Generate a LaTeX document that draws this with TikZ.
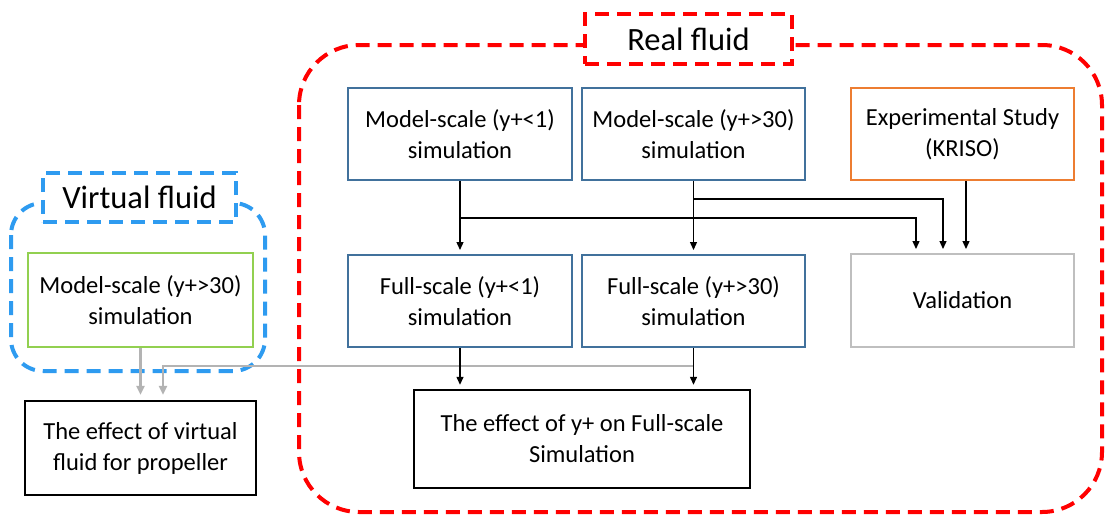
\documentclass[tikz,border=0pt]{standalone}
\usepackage{fontspec}
\setmainfont{Carlito}
\usetikzlibrary{arrows.meta}
\definecolor{boxblue}{HTML}{41719C}
\definecolor{boxorange}{HTML}{ED7D31}
\definecolor{boxgreen}{HTML}{92D050}
\definecolor{boxgray}{HTML}{BFBFBF}
\definecolor{dashred}{HTML}{FF0000}
\definecolor{dashblue}{HTML}{2E9BF0}
\definecolor{linegray}{HTML}{B3B3B3}
\tikzset{
  bx/.style={draw, line width=2pt, align=center, inner sep=0pt,
    font=\fontsize{24.5}{31}\selectfont, minimum width=224pt, minimum height=92pt},
  bluebox/.style={bx, draw=boxblue},
  orangebox/.style={bx, draw=boxorange},
  greenbox/.style={bx, draw=boxgreen, minimum width=225pt, minimum height=94pt},
  graybox/.style={bx, draw=boxgray, minimum height=93pt},
  blackbox/.style={bx, draw=black, line width=2.4pt},
  titlebox/.style={draw, fill=white, line width=4pt, dash pattern=on 14pt off 8pt,
    inner sep=0pt, font=\fontsize{32.5}{36}\selectfont},
  region/.style={line width=4pt, dash pattern=on 14pt off 8pt},
  arr/.style={draw=black, line width=1.3pt, -{Triangle[length=8pt,width=7pt]}, shorten >=4pt},
  garr/.style={draw=linegray, line width=2.2pt, -{Triangle[length=9pt,width=8pt]}, shorten >=5pt},
}
\begin{document}
\begin{tikzpicture}[x=1pt,y=-1pt]
\useasboundingbox (0,0) rectangle (1106,517);
% regions
\draw[region, draw=dashred, rounded corners=60pt] (299,45) rectangle (1102,512);
\draw[region, draw=dashblue, rounded corners=32pt] (11,203) rectangle (265,371);
\node[titlebox, draw=dashred, minimum width=207pt, minimum height=50pt] (rtitle) at (688.5,39) {Real fluid};
\node[titlebox, draw=dashblue, minimum width=193pt, minimum height=49pt] (vtitle) at (139.5,197.5) {Virtual fluid};
% boxes
\node[bluebox] (ms1) at (460,134) {Model-scale (y+<1)\\simulation};
\node[bluebox, minimum width=223pt] (ms30) at (693.5,134) {Model-scale (y+>30)\\simulation};
\node[orangebox, minimum width=223pt] (exp) at (962.5,134) {Experimental Study\\(KRISO)};
\node[bluebox] (fs1) at (460,301) {Full-scale (y+<1)\\simulation};
\node[bluebox, minimum width=223pt] (fs30) at (693.5,301) {Full-scale (y+>30)\\simulation};
\node[graybox, minimum width=223pt] (val) at (962.5,300.5) {Validation};
\node[blackbox, minimum width=336pt, minimum height=98pt] (effy) at (582,439) {The effect of y+ on Full-scale\\Simulation};
\node[greenbox] (vms) at (140.5,300) {Model-scale (y+>30)\\simulation};
\node[blackbox, minimum width=231pt, minimum height=94pt] (effv) at (140.5,448) {The effect of virtual\\fluid for propeller};
% gray connectors
\coordinate (g1) at (693.5,366);
\draw[garr] (g1) -| ([xshift=22.5pt]effv.north);
\draw[garr] (vms.south) -- (effv.north);
% black connectors
\coordinate (j1) at (460,218);
\coordinate (j2) at (693.5,199);
\draw[arr] (ms1.south) -- (fs1.north);
\draw[arr] (ms30.south) -- (fs30.north);
\draw[arr] (j1) -| ([xshift=-46.5pt]val.north);
\draw[arr] (j2) -| ([xshift=-19.5pt]val.north);
\draw[arr] ([xshift=3.5pt]exp.south) -- ([xshift=3.5pt]val.north);
\draw[arr] (fs1.south) -- (fs1.south |- effy.north);
\draw[arr] (fs30.south) -- (fs30.south |- effy.north);
\end{tikzpicture}
\end{document}
